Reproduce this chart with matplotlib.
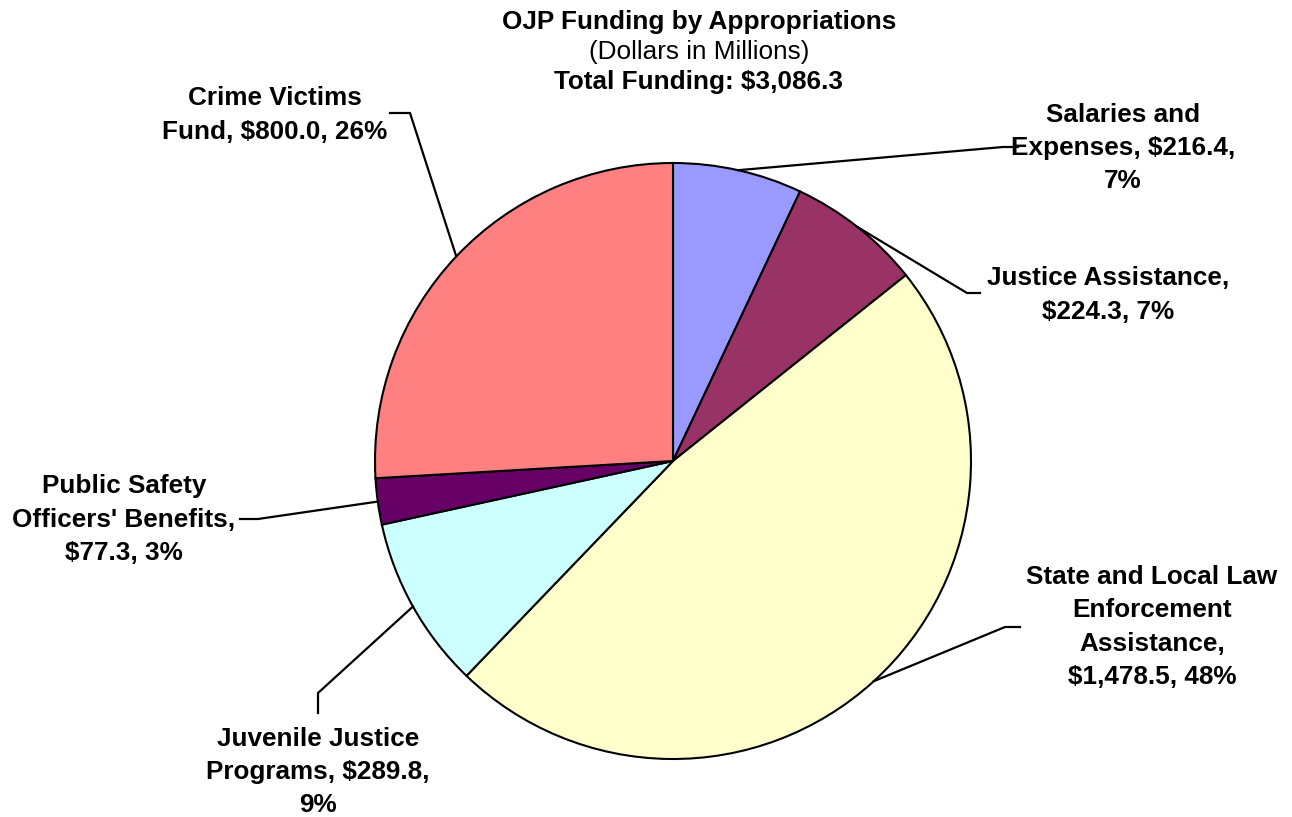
import numpy as np
import matplotlib
matplotlib.use("Agg")
import matplotlib.pyplot as plt

plt.rcParams['font.family'] = ['Liberation Sans', 'DejaVu Sans']

# Daten (Dollars in Millions)
categories = ["Salaries and Expenses", "Justice Assistance",
              "State and Local Law Enforcement Assistance",
              "Juvenile Justice Programs", "Public Safety Officers' Benefits",
              "Crime Victims Fund"]
values = [216.4, 224.3, 1478.5, 289.8, 77.3, 800.0]
label_texts = ["Salaries and\nExpenses, $216.4,\n7%",
               "Justice Assistance,\n$224.3, 7%",
               "State and Local Law\nEnforcement\nAssistance,\n$1,478.5, 48%",
               "Juvenile Justice\nPrograms, $289.8,\n9%",
               "Public Safety\nOfficers' Benefits,\n$77.3, 3%",
               "Crime Victims\nFund, $800.0, 26%"]
colors = ["#9999FF", "#993366", "#FFFFCC", "#CCFFFF", "#660066", "#FF8080"]
total = sum(values)

W, H = 1292, 817
cx, cy, R = 673, 461, 298

fig = plt.figure(figsize=(W / 100, H / 100), dpi=100)
ax = fig.add_axes([(cx - R) / W, (H - cy - R) / H, 2 * R / W, 2 * R / H])

wedges, _ = ax.pie(values, colors=colors, startangle=90, counterclock=False,
                   radius=1.0, wedgeprops=dict(edgecolor="black", linewidth=1.5))
ax.set_xlim(-1, 1)
ax.set_ylim(-1, 1)
ax.set_aspect('equal')
ax.axis('off')


def px(x, y):
    # pixel -> data coords
    return (x - cx) / R, (cy - y) / R


# elbow, line end, text anchor (pixels)
layout = [
    ((1003, 147), (1018, 147), (1123, 148)),
    ((967, 293), (980, 293), (1108, 295)),
    ((1005, 627), (1020, 627), (1152, 627)),
    ((318, 693), (318, 713), (318, 772)),
    ((258, 519), (240, 519), (124, 520)),
    ((410, 113), (390, 113), (275, 115)),
]

for w, txt, (elb, end, tpos) in zip(wedges, label_texts, layout):
    ang = np.deg2rad((w.theta1 + w.theta2) / 2)
    x0, y0 = np.cos(ang), np.sin(ang)
    ex, ey = px(*elb)
    nx, ny = px(*end)
    ax.plot([x0, ex, nx], [y0, ey, ny], color="black", lw=1.6,
            solid_joinstyle='miter', clip_on=False)
    tx, ty = px(*tpos)
    ax.text(tx, ty, txt, ha='center', va='center', fontsize=18.8,
            fontweight='bold', linespacing=1.5, clip_on=False)

fig.text(699 / W, 1 - 22 / H, "OJP Funding by Appropriations", ha='center',
         va='center', fontsize=18.8, fontweight='bold')
fig.text(699 / W, 1 - 52 / H, "(Dollars in Millions)", ha='center',
         va='center', fontsize=18.8)
fig.text(699 / W, 1 - 82 / H, "Total Funding: $3,086.3", ha='center',
         va='center', fontsize=18.8, fontweight='bold')

fig.savefig("out.png", dpi=100)
